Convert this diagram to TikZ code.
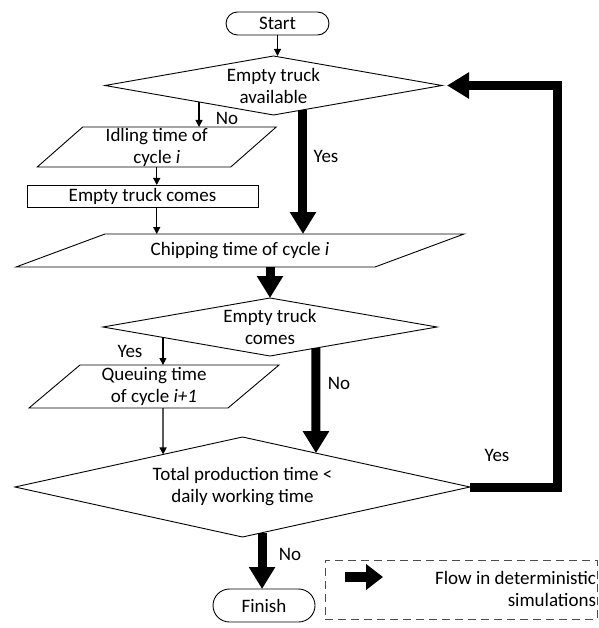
\documentclass[tikz,border=0pt]{standalone}
\usepackage{fontspec}
\setmainfont{Carlito}
\usetikzlibrary{shapes.geometric,shapes.misc,arrows.meta,calc}
\begin{document}
\begin{tikzpicture}[x=1pt,y=-1pt,
  every node/.style={font=\fontsize{19}{22}\selectfont, inner sep=0pt, outer sep=0pt},
  shp/.style={draw=black, line width=0.9pt, fill=white},
  term/.style={shp, rounded rectangle},
  dec/.style={shp, diamond},
  body/.style={inner sep=0pt},
  txt/.style={align=center},
  thin/.style={line width=1.2pt, -{Triangle[width=7pt,length=7pt]}},
  thick/.style={line width=9pt, -{Triangle[width=25pt,length=22pt]}},
  lbl/.style={}
]
\useasboundingbox (0,0) rectangle (598,628);

% terminals
\node[term, minimum width=103pt, minimum height=23pt] (start) at (277.5,23.5) {Start};
\node[term, minimum width=102pt, minimum height=33pt] (finish) at (264,605.5) {Finish};

% decisions
\node[dec, minimum width=337pt, minimum height=59pt] (d1) at (273.5,85.5) {};
\node[txt] (d1t) at (d1.center) {Empty truck\\available};
\node[dec, minimum width=334pt, minimum height=58pt] (d2) at (270,327) {};
\node[txt] (d2t) at (d2.center) {Empty truck\\comes};
\node[dec, minimum width=455pt, minimum height=100pt] (d3) at (242.5,487) {};
\node[txt] (d3t) at (d3.center) {Total production time <\\daily working time};

% process rectangle
\node[shp, minimum width=231pt, minimum height=22pt] (r) at (142.5,196) {Empty truck comes};

% parallelograms (body nodes + slanted outline)
\node[body, minimum width=193.5pt, minimum height=40pt] (p1) at (156.75,147) {};
\draw[shp] ([xshift=22.75pt]p1.north west) -- ([xshift=22.75pt]p1.north east)
  -- ([xshift=-22.75pt]p1.south east) -- ([xshift=-22.75pt]p1.south west) -- cycle;
\node[txt] (p1t) at (p1.center) {Idling time of\\cycle \textit{i}};

\node[body, minimum width=359pt, minimum height=33pt] (p2) at (240,250.5) {};
\draw[shp] ([xshift=44.5pt]p2.north west) -- ([xshift=44.5pt]p2.north east)
  -- ([xshift=-44.5pt]p2.south east) -- ([xshift=-44.5pt]p2.south west) -- cycle;
\node[txt] (p2t) at (p2.center) {Chipping time of cycle \textit{i}};

\node[body, minimum width=199pt, minimum height=43pt] (p3) at (154,386.5) {};
\draw[shp] ([xshift=25.5pt]p3.north west) -- ([xshift=25.5pt]p3.north east)
  -- ([xshift=-25.5pt]p3.south east) -- ([xshift=-25.5pt]p3.south west) -- cycle;
\node[txt] (p3t) at (p3.center) {Queuing time\\of cycle \textit{i+1}};

% edge points
\coordinate (a1) at ($(d1.south)!0.442!(d1.west)$);
\coordinate (a2) at ($(d1.south)!0.175!(d1.east)$);
\coordinate (b1) at ($(d2.south)!0.641!(d2.west)$);
\coordinate (b2) at ($(d2.south)!0.275!(d2.east)$);
\coordinate (c1) at ($(d3.north)!0.349!(d3.west)$);
\coordinate (c2) at ($(d3.north)!0.323!(d3.east)$);
\coordinate (c3) at ($(d3.south)!0.086!(d3.east)$);
\coordinate (loopc) at ($(d3.east)+(87,0)$);

% thin connectors
\draw[thin] (start.south) -- (start.south |- d1.north);
\draw[thin] (a1) -- (a1 |- p1.north);
\draw[thin] (p1.south) -- (p1.south |- r.north);
\draw[thin] (p1.south |- r.south) -- (p1.south |- p2.north);
\draw[thin] (b1) -- (b1 |- p3.north);
\draw[thin] (b1 |- p3.south) -- (c1);

% thick connectors
\draw[thick] (a2) -- (a2 |- p2.north);
\draw[thick] (d2.north |- p2.south) -- (d2.north);
\draw[thick] (b2) -- (c2);
\draw[thick] (c3) -- (c3 |- finish.north);
\draw[thick] (d3.east) -- (loopc) |- ([xshift=5pt]d1.east);

% labels
\node[lbl] (lno1) at (227,118) {No};
\node[lbl] (lyes1) at (326,156) {Yes};
\node[lbl] (lyes2) at (130,351) {Yes};
\node[lbl] (lno2) at (339,383) {No};
\node[lbl] (lyes3) at (497,455) {Yes};
\node[lbl] (lno3) at (290,554) {No};

% legend
\node[draw=black!70, dash pattern=on 8pt off 5pt, line width=0.8pt,
      minimum width=272pt, minimum height=59pt] (leg) at (461,589.5) {};
\coordinate (lega) at (345,577);
\coordinate (legb) at (383,577);
\draw[line width=10pt, -{Triangle[width=25pt,length=17pt]}] (lega) -- (legb);
\node[align=right, anchor=east] (legt) at (596,588.5) {Flow in deterministic\\simulations};
\end{tikzpicture}
\end{document}
